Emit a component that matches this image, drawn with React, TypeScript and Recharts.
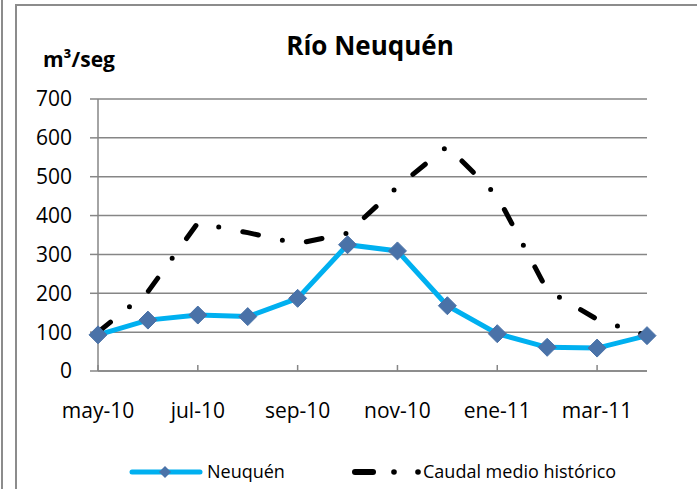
import React from "react";
import {
  CartesianGrid,
  Legend,
  Line,
  LineChart,
  XAxis,
  YAxis,
} from "recharts";

const meses = [
  "may-10", "jun-10", "jul-10", "ago-10", "sep-10", "oct-10",
  "nov-10", "dic-10", "ene-11", "feb-11", "mar-11", "abr-11",
];
const neuquen = [93, 131, 144, 140, 187, 325, 309, 168, 96, 61, 59, 91];
const caudalHistorico = [100, 204, 381, 356, 328, 355, 474, 578, 450, 208, 133, 91];
const yTicks = [0, 100, 200, 300, 400, 500, 600, 700];

const data = meses.map((mes, i) => ({
  mes,
  neuquen: neuquen[i],
  historico: caudalHistorico[i],
}));

const GRIS = "#868686";
const CELESTE = "#00B0F0";
const MARCADOR = "#4A72A8";
const FONT = "'Open Sans', 'Liberation Sans', sans-serif";

function Rombo(props: any) {
  const { cx, cy, index } = props;
  if (cx == null || cy == null) return <g key={index} />;
  const r = 9;
  return (
    <path
      key={index}
      d={`M${cx},${cy - r}L${cx + r},${cy}L${cx},${cy + r}L${cx - r},${cy}Z`}
      fill={MARCADOR}
      stroke={MARCADOR}
      strokeWidth={1}
    />
  );
}

function Leyenda() {
  return (
    <svg width={697} height={34} style={{ display: "block" }}>
      <line x1={132} y1={17} x2={200} y2={17} stroke={CELESTE} strokeWidth={5} strokeLinecap="round" />
      <path d="M165,11L171,17L165,23L159,17Z" fill={MARCADOR} />
      <text x={207} y={23} fontFamily={FONT} fontSize={18} fill="#000">
        Neuquén
      </text>
      <line x1={355} y1={17} x2={373} y2={17} stroke="#000" strokeWidth={6} strokeLinecap="round" />
      <circle cx={394} cy={17} r={2.8} fill="#000" />
      <circle cx={418} cy={17} r={2.8} fill="#000" />
      <text x={423} y={23} fontFamily={FONT} fontSize={18} fill="#000">
        Caudal medio histórico
      </text>
    </svg>
  );
}

export default function App() {
  return (
    <div
      style={{
        position: "absolute",
        left: 0,
        top: 0,
        width: 697,
        height: 489,
        background: "#fff",
        overflow: "hidden",
      }}
    >
      <div style={{ position: "absolute", left: 1, top: 0, width: 2, height: 489, background: "#8c8c8c" }} />
      <div
        style={{
          position: "absolute",
          left: 15,
          top: 4,
          width: 700,
          height: 500,
          border: `2px solid #8c8c8c`,
        }}
      />
      <div
        style={{
          position: "absolute",
          left: 0,
          top: 28,
          width: 740,
          textAlign: "center",
          fontFamily: FONT,
          fontWeight: 700,
          fontSize: 26,
          lineHeight: "34px",
        }}
      >
        Río Neuquén
      </div>
      <div
        style={{
          position: "absolute",
          left: 43,
          top: 46,
          fontFamily: FONT,
          fontWeight: 700,
          fontSize: 21,
          lineHeight: "26px",
        }}
      >
        m³/seg
      </div>
      <div style={{ position: "absolute", left: 0, top: 0 }}>
        <LineChart
          width={697}
          height={489}
          data={data}
          margin={{ top: 99, right: 50, bottom: 0, left: 0 }}
        >
          <CartesianGrid vertical={false} stroke={GRIS} strokeWidth={1.5} />
          <XAxis
            dataKey="mes"
            interval={1}
            height={84}
            tickSize={-6}
            tickMargin={38}
            axisLine={{ stroke: GRIS, strokeWidth: 1.5 }}
            tickLine={{ stroke: GRIS, strokeWidth: 1.5 }}
            tick={{ fill: "#000", fontSize: 21, fontFamily: FONT }}
          />
          <YAxis
            domain={[0, 700]}
            ticks={yTicks}
            width={98}
            tickSize={8}
            tickMargin={18}
            axisLine={{ stroke: GRIS, strokeWidth: 1.5 }}
            tickLine={{ stroke: GRIS, strokeWidth: 1.5 }}
            tick={{ fill: "#000", fontSize: 21, fontFamily: FONT }}
          />
          <Legend
            verticalAlign="bottom"
            content={() => <Leyenda />}
            wrapperStyle={{ left: 0, width: 697, height: 34 }}
          />
          <Line
            dataKey="neuquen"
            name="Neuquén"
            stroke={CELESTE}
            strokeWidth={5}
            dot={Rombo}
            activeDot={false}
            isAnimationActive={false}
          />
          <Line
            dataKey="historico"
            name="Caudal medio histórico"
            stroke="#000"
            strokeWidth={5}
            strokeLinecap="round"
            strokeDasharray="16 24.5 0 24.5"
            dot={false}
            activeDot={false}
            isAnimationActive={false}
          />
        </LineChart>
      </div>
    </div>
  );
}
